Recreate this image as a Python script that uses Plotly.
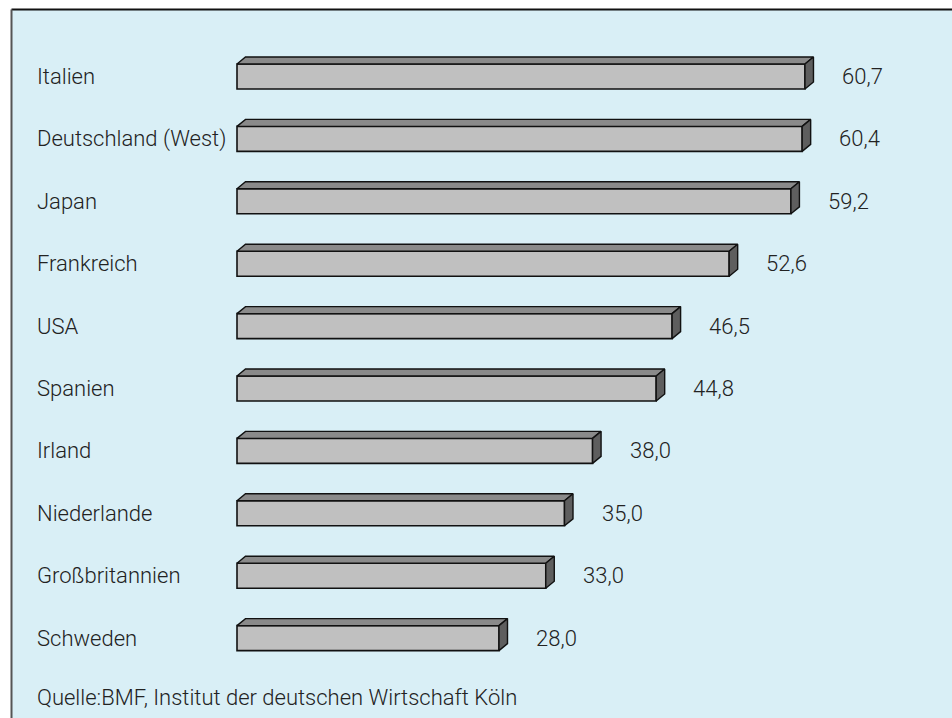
import plotly.graph_objects as go

categories = ["Italien", "Deutschland (West)", "Japan", "Frankreich", "USA",
              "Spanien", "Irland", "Niederlande", "Großbritannien", "Schweden"]
values = [60.7, 60.4, 59.2, 52.6, 46.5, 44.8, 38.0, 35.0, 33.0, 28.0]
value_labels = ["60,7", "60,4", "59,2", "52,6", "46,5", "44,8", "38,0", "35,0", "33,0", "28,0"]
source_text = "Quelle:BMF, Institut der deutschen Wirtschaft Köln"

W, H = 952, 718
BG = "#D9EFF6"
FONT = "Roboto"
TXT = "#222222"

# axis geometry (pixels -> data)
x0_px, px_per_unit = 237, 9.357
y0_px, px_per_row = 76.5, 62.4
xr = [-x0_px / px_per_unit, (W - x0_px) / px_per_unit]
yr = [(H - y0_px) / px_per_row, -y0_px / px_per_row]

bar_w = 25 / px_per_row
dx = 8.5 / px_per_unit
dy = 7 / px_per_row

ys = list(range(len(categories)))

fig = go.Figure()

tx, ty = [], []
sx, sy = [], []
for i, v in zip(ys, values):
    top = i - bar_w / 2
    bot = i + bar_w / 2
    tx += [0, dx, v + dx, v, 0, None]
    ty += [top, top - dy, top - dy, top, top, None]
    sx += [v, v + dx, v + dx, v, v, None]
    sy += [top, top - dy, bot - dy, bot, top, None]

fig.add_trace(go.Bar(x=values, y=ys, orientation="h", width=bar_w,
                     marker=dict(color="#C0C0C0", line=dict(color="#111111", width=1.6)),
                     hoverinfo="skip"))
fig.add_trace(go.Scatter(x=tx, y=ty, mode="lines", fill="toself", fillcolor="#8A8A8A",
                         line=dict(color="#111111", width=1.4), hoverinfo="skip"))
fig.add_trace(go.Scatter(x=sx, y=sy, mode="lines", fill="toself", fillcolor="#5E5E5E",
                         line=dict(color="#111111", width=1.4), hoverinfo="skip"))

font = dict(family=FONT, size=22, color=TXT, weight=300)
annotations = []
for i, (c, v, lab) in enumerate(zip(categories, values, value_labels)):
    annotations.append(dict(x=35 / W, xref="paper", y=i, yref="y", text=c,
                            xanchor="left", yanchor="middle", showarrow=False, font=font))
    annotations.append(dict(x=v, xref="x", y=i, yref="y", text=lab, xshift=35,
                            xanchor="left", yanchor="middle", showarrow=False, font=font))
annotations.append(dict(x=35 / W, xref="paper", y=1 - 697 / H, yref="paper", text=source_text,
                        xanchor="left", yanchor="middle", showarrow=False, font=font))

shapes = [
    dict(type="rect", xref="paper", yref="paper", x0=0, x1=11.5 / W, y0=0, y1=1,
         fillcolor="white", line=dict(width=0), layer="below"),
    dict(type="rect", xref="paper", yref="paper", x0=0, x1=1, y0=1 - 9.5 / H, y1=1,
         fillcolor="white", line=dict(width=0), layer="below"),
    dict(type="line", xref="paper", yref="paper", x0=11.5 / W, x1=1, y0=1 - 9.5 / H, y1=1 - 9.5 / H,
         line=dict(color="#111111", width=2)),
    dict(type="line", xref="paper", yref="paper", x0=11.5 / W, x1=11.5 / W, y0=0, y1=1 - 9.5 / H,
         line=dict(color="#555555", width=2)),
]

fig.update_layout(
    width=W, height=H, margin=dict(l=0, r=0, t=0, b=0),
    paper_bgcolor=BG, plot_bgcolor=BG, showlegend=False,
    xaxis=dict(range=xr, visible=False, fixedrange=True),
    yaxis=dict(range=yr, visible=False, fixedrange=True),
    annotations=annotations, shapes=shapes,
)

fig.write_html("out.html")
